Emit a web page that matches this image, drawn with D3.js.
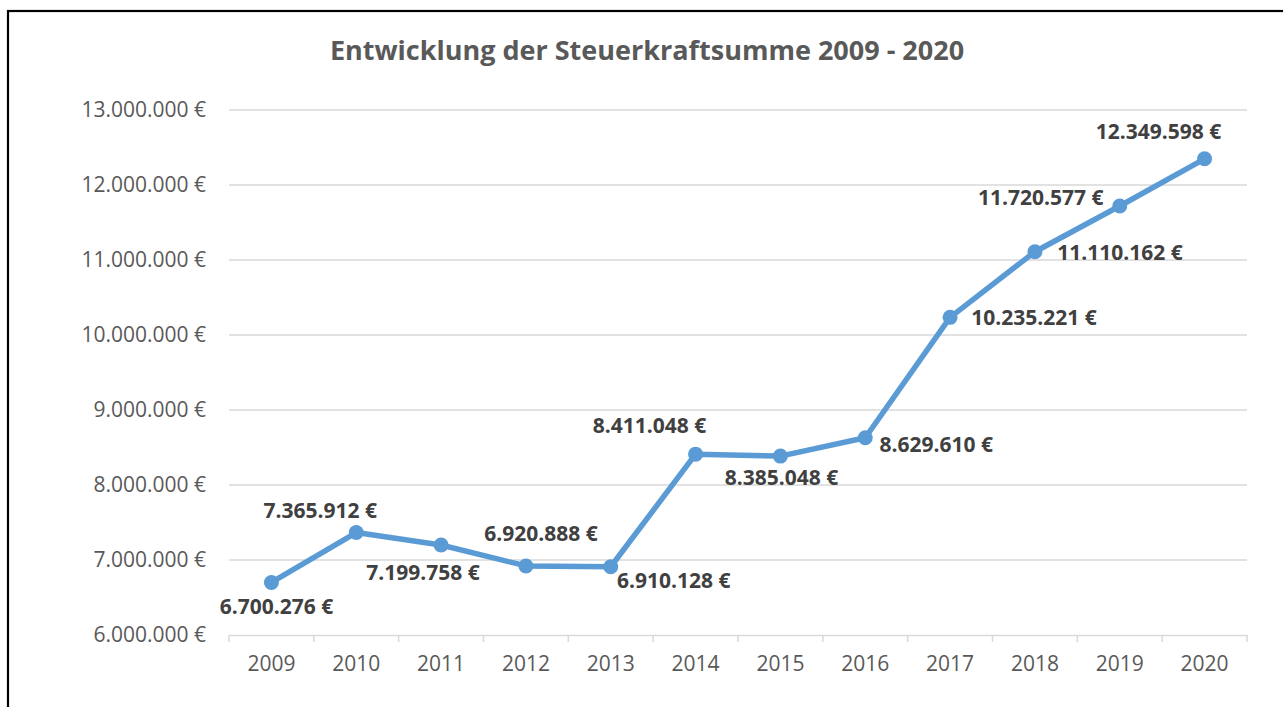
<!DOCTYPE html>
<html>
<head>
<meta charset="utf-8">
<script src="https://cdn.jsdelivr.net/npm/d3@7"></script>
<style>
    body { margin: 0; background: #fff; }
    svg { display: block; font-family: "Open Sans", "Noto Sans", sans-serif; }
</style>
</head>
<body>
<div id="chart"></div>
<script>
//chart data
const years = ["2009", "2010", "2011", "2012", "2013", "2014", "2015", "2016", "2017", "2018", "2019", "2020"];
const steuerkraft = [6700276, 7365912, 7199758, 6920888, 6910128, 8411048, 8385048, 8629610, 10235221, 11110162, 11720577, 12349598];
const yTicks = [6000000, 7000000, 8000000, 9000000, 10000000, 11000000, 12000000, 13000000];
const title = "Entwicklung der Steuerkraftsumme 2009 - 2020";

//label placement relative to each point (dx to text centre, dy to baseline)
const labelOffsets = [[5, 32], [-36, -15], [-18, 35], [15, -25], [63, 21], [-46, -21],
    [1, 29], [71, 14], [84, 8], [85, 8], [-79, -1], [-46, -20]];

const W = 1283, H = 707;
const plot = { left: 229, right: 1247, top: 110, bottom: 635 };

const svg = d3.select("#chart")
    .append("svg")
    .attr("width", W)
    .attr("height", H);

//frame (right/bottom edges are outside the picture)
svg.append("rect")
    .attr("x", 8)
    .attr("y", 11)
    .attr("width", W + 20)
    .attr("height", H + 20)
    .attr("fill", "none")
    .attr("stroke", "#000")
    .attr("stroke-width", 2.2);

//title
svg.append("text")
    .attr("x", 647)
    .attr("y", 60)
    .attr("text-anchor", "middle")
    .attr("font-weight", "bold")
    .attr("font-size", "27px")
    .attr("fill", "#595959")
    .text(title);

//scales
const x = d3.scaleBand()
    .domain(years)
    .range([plot.left, plot.right]);

const y = d3.scaleLinear()
    .domain([6000000, 13000000])
    .range([plot.bottom, plot.top]);

const fmt = d => d3.format(",")(d).replace(/,/g, ".") + " €";

//gridlines
svg.append("g")
    .selectAll("line")
    .data(yTicks.slice(1))
    .enter().append("line")
    .attr("x1", plot.left)
    .attr("x2", plot.right)
    .attr("y1", d => y(d))
    .attr("y2", d => y(d))
    .attr("stroke", "#d9d9d9")
    .attr("stroke-width", 1.5);

//Y axis labels
const yAxis = svg.append("g")
    .attr("transform", `translate(${plot.left},0)`)
    .call(d3.axisLeft(y).tickValues(yTicks).tickFormat(fmt).tickSize(0).tickPadding(23));
yAxis.select(".domain").remove();
yAxis.selectAll("text")
    .attr("font-family", "'Open Sans', sans-serif")
    .attr("font-size", "21px")
    .attr("fill", "#595959");

//X axis with ticks between categories
const xAxis = svg.append("g")
    .attr("transform", `translate(0,${plot.bottom})`)
    .call(d3.axisBottom(x).tickSize(0).tickPadding(21));
xAxis.select(".domain")
    .attr("stroke", "#d9d9d9")
    .attr("stroke-width", 1.5);
xAxis.selectAll("text")
    .attr("font-family", "'Open Sans', sans-serif")
    .attr("font-size", "21px")
    .attr("fill", "#595959");
xAxis.append("g")
    .selectAll("line")
    .data(years.concat(["end"]))
    .enter().append("line")
    .attr("x1", (d, i) => plot.left + i * x.bandwidth())
    .attr("x2", (d, i) => plot.left + i * x.bandwidth())
    .attr("y1", 0)
    .attr("y2", 7)
    .attr("stroke", "#d9d9d9")
    .attr("stroke-width", 1.5);

//line
const data = years.map((yr, i) => ({ year: yr, value: steuerkraft[i] }));
const cx = d => x(d.year) + x.bandwidth() / 2;

svg.append("path")
    .datum(data)
    .attr("fill", "none")
    .attr("stroke", "#5b9bd5")
    .attr("stroke-width", 5.5)
    .attr("stroke-linejoin", "round")
    .attr("d", d3.line().x(cx).y(d => y(d.value)));

svg.append("g")
    .selectAll("circle")
    .data(data)
    .enter().append("circle")
    .attr("cx", cx)
    .attr("cy", d => y(d.value))
    .attr("r", 7.5)
    .attr("fill", "#5b9bd5");

//data labels
svg.append("g")
    .selectAll("text")
    .data(data)
    .enter().append("text")
    .attr("x", (d, i) => cx(d) + labelOffsets[i][0])
    .attr("y", (d, i) => y(d.value) + labelOffsets[i][1])
    .attr("text-anchor", "middle")
    .attr("font-weight", "bold")
    .attr("font-size", "21px")
    .attr("fill", "#404040")
    .text(d => fmt(d.value));
</script>
</body>
</html>
